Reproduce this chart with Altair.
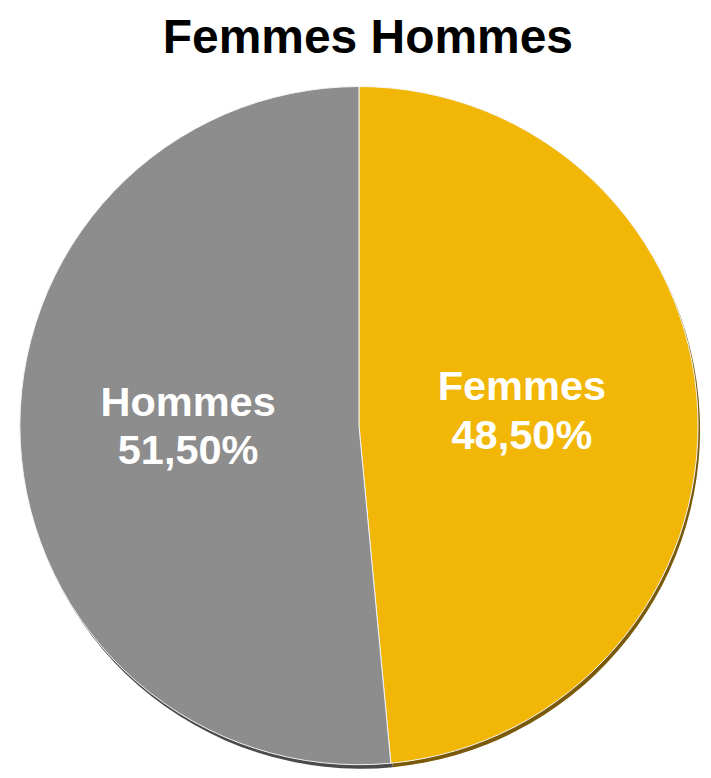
import altair as alt
import pandas as pd

categories = ["Femmes", "Hommes"]
values = [48.5, 51.5]
labels = ["Femmes\n48,50%", "Hommes\n51,50%"]
order = [1, 2]
title_text = "Femmes Hommes"

df = pd.DataFrame({"cat": categories, "val": values, "label": labels, "ord": order})

CX, CY, R = 355, 418, 343

base = alt.Chart(df)

shadow = base.mark_arc(outerRadius=R).encode(
    theta=alt.Theta("val:Q", stack=True),
    order=alt.Order("ord:Q"),
    fill=alt.Fill("cat:N", scale=alt.Scale(domain=categories, range=["#7a5a08", "#4a4a4a"]), legend=None),
    x=alt.value(CX + 2),
    y=alt.value(CY + 4),
)

pie = base.mark_arc(outerRadius=R, stroke="#f4f4f4", strokeWidth=1).encode(
    theta=alt.Theta("val:Q", stack=True),
    order=alt.Order("ord:Q"),
    color=alt.Color("cat:N", scale=alt.Scale(domain=categories, range=["#F1B606", "#8D8D8D"]), legend=None),
    x=alt.value(CX),
    y=alt.value(CY),
)


def label_layer(cat, radius):
    return base.mark_text(
        radius=radius, font="Liberation Sans", fontWeight="bold", fontSize=42, dy=-31,
        color="white", lineBreak="\n", lineHeight=49, align="center", baseline="middle",
    ).encode(
        theta=alt.Theta("val:Q", stack=True),
        order=alt.Order("ord:Q"),
        text="label:N",
        opacity=alt.condition(alt.datum.cat == cat, alt.value(1), alt.value(0)),
        x=alt.value(CX),
        y=alt.value(CY),
    )


text_f = label_layer("Femmes", 165)
text_h = label_layer("Hommes", 173)

title_df = pd.DataFrame({"t": [title_text]})
title = alt.Chart(title_df).mark_text(
    font="Liberation Sans", fontWeight="bold", fontSize=48.5, color="black",
    align="center", baseline="alphabetic",
).encode(text="t:N", x=alt.value(364), y=alt.value(41))

chart = alt.layer(shadow, pie, text_f, text_h, title).resolve_scale(
    color="independent", fill="independent"
).properties(
    width=703, height=770, padding=0, autosize=alt.AutoSizeParams(type="none")
).configure(background="white", view=alt.ViewConfig(stroke=None))

chart.save("out.html", embed_options={"renderer": "svg", "actions": False})
